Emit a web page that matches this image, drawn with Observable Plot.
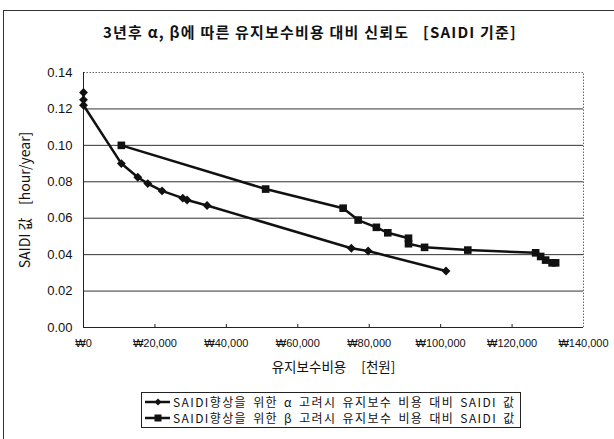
<!DOCTYPE html>
<html>
<head>
<meta charset="utf-8">
<script src="https://cdn.jsdelivr.net/npm/d3@7"></script>
<script src="https://cdn.jsdelivr.net/npm/@observablehq/plot@0.6"></script>
<style>
  html, body { margin: 0; padding: 0; background: #fff; }
  body { width: 614px; height: 439px; overflow: hidden; position: relative;
         font-family: "Liberation Sans", Arial, sans-serif; color: #111; }
  #frame { position: absolute; left: 3px; top: 10px; width: 700px; height: 600px;
           border: 1px solid #333; box-sizing: border-box; }
  #title { position: absolute; left: 0; width: 620px; top: 22px; text-align: center;
           font-family: "Noto Sans CJK KR", sans-serif; font-weight: bold; font-size: 15px;
           line-height: 20px; white-space: pre; letter-spacing: 1.2px; }
  #chart { position: absolute; left: 0; top: 0; }
  #legend { position: absolute; left: 141px; top: 392px; width: 380px; height: 36px;
            border: 1px solid #222; box-sizing: border-box;
            font-family: "Noto Sans CJK KR", sans-serif; font-size: 12px;
            letter-spacing: 1.4px; word-spacing: 2px; }
  .row { position: absolute; left: 2px; height: 14px; line-height: 14px; display: flex;
         align-items: center; white-space: pre; }
  .row span { line-height: 14px; }
  .row svg { margin-right: 3px; }
</style>
</head>
<body>
<div id="frame"></div>
<div id="title"></div>
<div id="chart"></div>
<div id="legend"></div>
<script>
// 유지보수비용 [천원] vs SAIDI [hour/year]
const titleText = "3년후 α, β에 따른 유지보수비용 대비 신뢰도   [SAIDI 기준]";
const xTitle = "유지보수비용     [천원]";
const yTitle = "SAIDI 값    [hour/year]";

const seriesNames = [
  "SAIDI향상을 위한 α 고려시 유지보수 비용 대비 SAIDI 값",
  "SAIDI향상을 위한 β 고려시 유지보수 비용 대비 SAIDI 값"
];

// α series
const alphaCost  = [0, 0, 0, 10600, 15200, 18000, 22000, 27800, 29000, 34600, 75000, 79700, 101500];
const alphaSaidi = [0.129, 0.125, 0.122, 0.090, 0.0825, 0.079, 0.075, 0.071, 0.070, 0.067, 0.0435, 0.042, 0.031];

// β series
const betaCost  = [10600, 51000, 72700, 76900, 82000, 85200, 91000, 91000, 95500, 107600, 126600, 128000, 129400, 131200, 132200];
const betaSaidi = [0.100, 0.076, 0.0655, 0.059, 0.055, 0.052, 0.049, 0.046, 0.044, 0.0425, 0.041, 0.039, 0.037, 0.0355, 0.0355];

const xTicks = [0, 20000, 40000, 60000, 80000, 100000, 120000, 140000];
const yTicks = [0, 0.02, 0.04, 0.06, 0.08, 0.10, 0.12, 0.14];

const alpha = alphaCost.map((c, i) => ({cost: c, saidi: alphaSaidi[i]}));
const beta  = betaCost.map((c, i) => ({cost: c, saidi: betaSaidi[i]}));

document.getElementById("title").textContent = titleText;

const won = d => "₩" + d3.format(",")(d);

const chart = Plot.plot({
  width: 614,
  height: 390,
  marginLeft: 83,
  marginRight: 31,
  marginTop: 72,
  marginBottom: 63,
  style: {fontFamily: "Liberation Sans, Arial, sans-serif", color: "#111", background: "transparent"},
  x: {domain: [0, 140000]},
  y: {domain: [0, 0.14]},
  marks: [
    Plot.frame({stroke: "#666", strokeDasharray: "1.5,1.5"}),
    Plot.ruleY(yTicks.filter(d => d > 0 && d < 0.14), {stroke: "#333", strokeWidth: 1}),
    Plot.ruleX([0], {stroke: "#222", strokeWidth: 1}),
    Plot.ruleY([0], {stroke: "#222", strokeWidth: 1}),
    Plot.ruleX(xTicks.slice(1, -1), {x: d => d, y1: 0, y2: 0, insetBottom: 3, stroke: "#222"}),
    Plot.axisY({ticks: yTicks, tickSize: 0, tickPadding: 11, tickFormat: d3.format(".2f"),
                fontSize: 13, label: null}),
    Plot.axisX({ticks: xTicks, tickSize: 0, tickPadding: 12, tickFormat: won,
                fontSize: 11, letterSpacing: "-0.6px", label: null}),
    Plot.text([yTitle], {frameAnchor: "left", textAnchor: "middle", rotate: -90, dx: -58,
                         fontSize: 14, letterSpacing: "0.6px",
                         fontFamily: "Noto Sans CJK KR, sans-serif", fill: "#111"}),
    Plot.text([xTitle], {frameAnchor: "bottom", textAnchor: "middle", dy: 44, fontSize: 13.5,
                         letterSpacing: "0.5px",
                         fontFamily: "Noto Sans CJK KR, sans-serif", fill: "#111"}),
    Plot.line(alpha, {x: "cost", y: "saidi", stroke: "#111", strokeWidth: 2.5}),
    Plot.line(beta, {x: "cost", y: "saidi", stroke: "#111", strokeWidth: 2.5}),
    Plot.dot(alpha, {x: "cost", y: "saidi", symbol: "diamond2", r: 4, fill: "#111", stroke: "none"}),
    Plot.dot(beta, {x: "cost", y: "saidi", symbol: "square", r: 4.3, fill: "#111", stroke: "none"})
  ]
});
document.getElementById("chart").appendChild(chart);

// legend rows: line swatch with marker, then series name
const legend = document.getElementById("legend");
seriesNames.forEach((name, i) => {
  const row = document.createElement("div");
  row.className = "row";
  row.style.top = (i === 0 ? 2 : 18) + "px";
  const marker = i === 0
    ? '<path d="M14,3.5 L17.5,7 L14,10.5 L10.5,7 Z" fill="#111"/>'
    : '<rect x="10.5" y="3.5" width="7" height="7" fill="#111"/>';
  row.innerHTML = '<svg width="26" height="14"><line x1="1" y1="7" x2="26" y2="7" stroke="#111" stroke-width="2.5"/>'
    + marker + '</svg>';
  const span = document.createElement("span");
  span.textContent = name;
  row.appendChild(span);
  legend.appendChild(row);
});
</script>
</body>
</html>
